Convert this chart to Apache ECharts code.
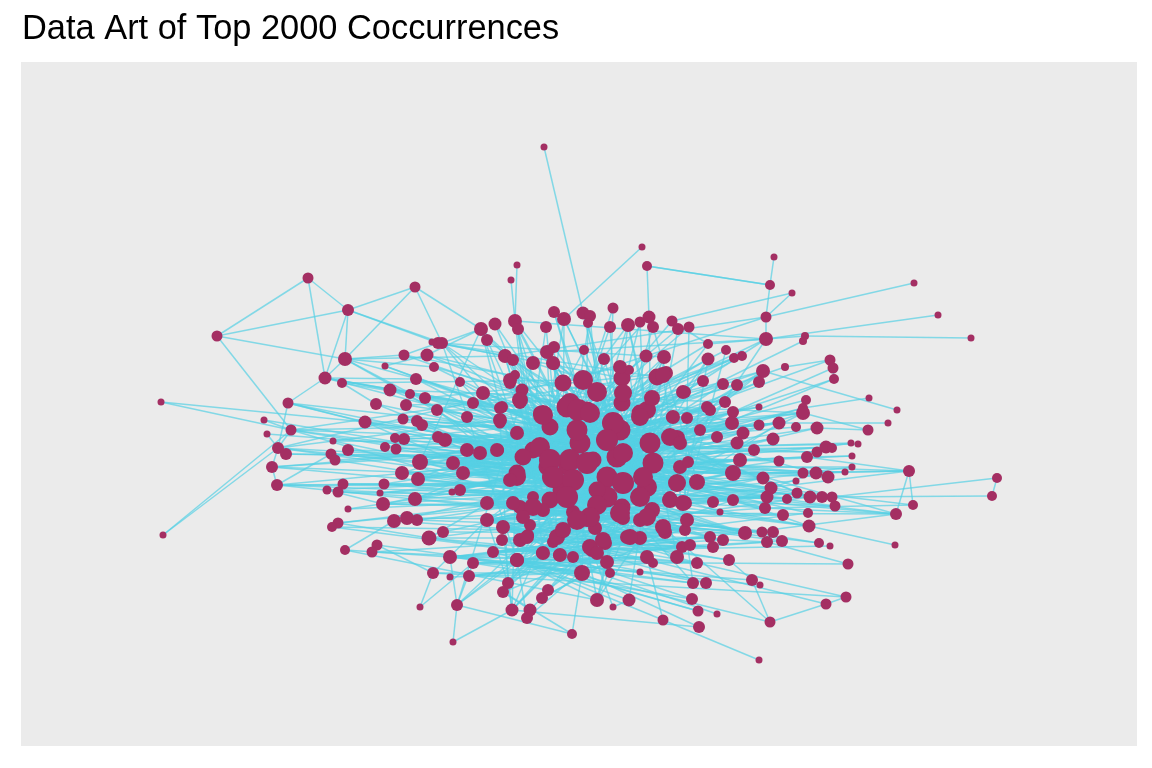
<!DOCTYPE html>
<html><head><meta charset="utf-8">
<script src="https://cdn.jsdelivr.net/npm/echarts@6/dist/echarts.min.js"></script>
<style>html,body{margin:0;padding:0;background:#fff}#c{width:1152px;height:768px}</style>
</head><body><div id="c"></div>
<script>
const titleText = "Data Art of Top 2000 Coccurrences";
// nodes: [x, y, weight]
const nodesLeft = [
[308,278,11],[415,287,11],[348,310,12],[217,336,11],[345,359,14],[325,378,13],[342,383,10],[288,403,11],[161,402,7],[385,366,7],
[404,355,11],[427,355,13],[432,342,7],[438,343,12],[434,367,10],[416,379,12],[390,390,13],[410,394,10],[425,398,12],[376,404,12],
[406,405,12],[264,420,7],[267,434,7],[291,430,11],[365,422,13],[403,419,11],[417,421,12],[422,425,12],[333,441,7],[278,448,12],
[286,454,12],[272,467,12],[277,485,12],[331,454,11],[335,460,11],[348,450,12],[385,447,10],[395,438,10],[404,439,12],[396,449,11],
[420,462,16],[402,473,14],[418,479,14],[384,484,11],[380,493,7],[343,484,11],[338,492,11],[327,490,9],[348,509,7],[383,504,14],
[415,499,14],[394,521,14],[407,518,14],[417,520,12],[338,523,11],[332,527,10],[429,538,15],[377,545,11],[372,552,11],[345,550,10],
[433,573,12],[420,607,7],[163,535,7],[437,410,12],[438,437,12]
];
const nodesTop = [
[544,147,7],[517,265,7],[511,280,7],[642,247,7],[647,266,10],[554,312,12],[564,319,14],[583,313,13],[590,316,12],[588,323,10],
[613,308,11],[481,329,14],[495,324,13],[515,321,14],[518,329,12],[546,327,12],[610,327,12],[628,325,14],[640,322,11],[649,317,13],
[653,327,12],[672,321,11],[678,329,12],[689,327,11],[487,340,12],[442,343,12],[505,356,14],[513,360,12],[547,352,14],[554,347,12],
[554,364,12],[584,350,10],[604,359,12],[646,356,13],[664,357,14],[708,344,10],[708,359,13],[726,350,10],[460,382,10],[515,375,10],
[510,383,12],[522,390,13],[563,383,17],[583,380,20],[597,392,20],[622,378,17],[629,370,10],[657,377,17],[666,373,14],[685,392,12],
[703,381,12],[723,384,12],[652,399,14],[483,393,14],[473,403,12],[502,407,12],[570,403,20],[622,403,17],[707,407,12],[725,402,12]
];
const nodesRight = [
[774,257,7],[770,285,10],[792,293,7],[914,283,7],[938,315,7],[971,338,7],[766,317,11],[766,339,14],[805,336,8],[803,341,8],
[734,358,10],[742,356,10],[785,367,8],[830,360,11],[833,368,11],[834,379,10],[763,371,14],[759,382,12],[737,385,12],[806,400,10],
[869,398,7],[759,407,7],[803,408,10],[897,410,7],[888,423,7],[868,430,11],[851,443,7],[858,444,7],[852,456,7],[852,467,7],
[845,472,7],[909,471,12],[997,478,10],[992,496,10],[913,505,10],[896,514,12],[895,545,7],[848,564,11],[846,597,11],[826,604,11],
[770,622,11],[759,660,7],[752,580,12],[760,585,7],[729,560,12],[819,543,10],[830,546,7],[809,526,13],[808,513,10],[783,515,12],
[765,508,12],[835,506,11],[832,497,11],[822,497,12],[810,497,13],[797,493,11],[787,499,10],[767,497,13],[771,488,13],[763,478,13],
[796,481,7],[803,473,11],[816,473,13],[828,477,13],[779,461,11],[807,457,12],[817,452,11],[826,447,13],[832,448,10],[817,428,13],
[796,427,10],[779,423,13],[759,425,11],[773,439,13],[754,450,12],[803,413,14],[733,412,12],[732,423,14],[743,433,13],[737,443,13],
[740,460,14],[733,473,16],[733,500,12],[745,533,14],[762,532,11],[773,532,12],[767,542,12],[782,541,12]
];
const nodesCenter = [
[500,408,12],[520,403,12],[467,417,12],[500,423,11],[517,432,12],[445,440,14],[467,450,14],[480,453,14],[498,450,12],[453,463,14],
[463,473,14],[460,490,12],[452,492,7],[487,503,14],[487,520,14],[443,532,12],[503,528,12],[502,540,12],[493,552,12],[450,557,14],
[473,563,12],[450,577,7],[469,576,12],[517,560,14],[520,540,14],[528,535,12],[530,525,12],[542,553,12],[559,555,12],[553,542,12],
[563,532,12],[573,512,14],[587,520,14],[595,528,14],[592,550,14],[605,543,14],[607,562,14],[582,573,16],[610,573,10],[627,537,14],
[640,538,14],[623,518,14],[640,520,14],[652,510,16],[665,532,14],[647,557,12],[653,563,10],[640,572,7],[682,547,12],[690,545,12],
[697,563,12],[685,530,12],[685,503,14],[670,497,12],[713,502,12],[720,512,7],[710,537,12],[713,547,12],[723,540,12],[697,482,16],
[680,467,14],[688,462,12],[677,438,16],[672,417,12],[687,418,12],[700,430,12],[710,410,12],[717,437,12],[650,443,21],[647,487,20],
[653,463,21],[640,413,17],[620,430,21],[617,457,21],[607,477,21],[607,497,21],[622,507,17],[597,490,17],[593,460,17],[580,443,21],
[577,430,21],[567,407,21],[587,410,17],[550,427,17],[540,413,14],[533,450,17],[523,457,17],[517,473,17],[547,467,17],[567,467,17],
[563,490,21],[550,500,17],[520,507,14],[533,497,12],[543,510,14],[573,557,12]
];
const nodesLower = [
[508,583,12],[503,592,12],[548,590,12],[542,598,12],[597,600,14],[629,600,13],[613,607,7],[457,605,12],[512,610,13],[530,610,13],
[527,618,12],[572,634,10],[453,642,7],[663,620,11],[693,583,12],[706,583,12],[692,599,12],[698,611,11],[717,614,7],[699,627,12]
];
const nodesCore = [
[578,410,22],[590,413,20],[543,415,20],[613,423,22],[607,440,22],[570,460,22],[587,463,22],[623,453,20],[540,447,20],[550,460,22],
[517,477,18],[553,477,22],[573,480,22],[567,497,22],[597,505,20],[623,483,22],[643,477,20],[640,497,20],[620,513,20],[647,517,18],
[590,517,20],[577,520,20],[533,507,18],[647,410,18],[640,417,18],[623,393,18],[670,437,18],[677,483,18],[670,500,16],[683,503,16],
[663,527,16],[630,537,16],[590,547,16],[603,540,16],[557,537,16],[563,530,16],[527,537,14],[503,527,14],[513,503,14],[523,517,14],
[510,480,14],[497,450,14],[500,420,14],[517,433,14],[510,380,14],[520,400,16],[533,363,14],[553,363,14],[620,367,14],[663,375,16],
[683,392,14],[652,398,16],[673,417,14],[680,443,14],[687,520,14],[543,553,14],[560,555,14],[517,560,14],[597,553,14],[647,557,14],
[677,557,14]
];
// edges: "source:target,target;..."
const edgesLeft = "0:3,2,5;1:2,4,76,90;2:3,4,5,13,90;3:4,23;4:5,10,14,281,91;5:7,15,16,283;6:19,275,108;7:29,24,281;8:23,24;9:11,283,272;10:13,109,285;11:76,281,122;12:90,110;13:91,112,99;14:286,275;15:283,287;16:282,285,124;17:281,206;18:272,113;19:283,288;20:281,117;21:23,287;22:29,283;23:29,282,281,272;24:286,202,283;25:281,283;26:275,272;27:285,256;28:288,281;29:30,31,282,206;30:283,286;31:32,288,281;32:33,282,272,208;33:287,283;34:281,256;35:286,272;36:283,196;37:281,279;38:285,272;39:282,275;40:281,283,272,208;41:286,282;42:288,283,265;43:289,281;44:287,283;45:282,272;46:288,256;47:49,287,265;48:288,283;49:256,282;50:281,272;51:289,253;52:255,283;53:282,264;54:56,288,282;55:249,257;56:256,263,253;57:58,250,60;58:249,252;59:51,313,232;60:227,250,163;61:60,233;62:23,29;63:281,279;64:283,206";
const edgesTop = "65:72;66:78;67:78;68:71;69:84,126;70:71,287,288;71:282,303;72:286,256;73:288,303;74:286,250;75:287,304;76:89,300,282,40;77:303,289;78:301,282;79:298,288;80:303,305;81:304,289;82:288,300;83:290,282;84:299,256;85:287,272;86:301,100;87:298,282;88:300,265;89:283,301;90:76,289,303;91:281,298;92:287,304;93:286,256;94:303,282;95:288,250;96:300,282;97:303,256;98:298,288;99:301,282;100:299,287,132;101:300,288;102:298,265;103:282,303;104:287,256;105:282,283;106:288,272;107:300,289;108:303,282,299;109:298,288,256;110:300,287;111:302,282;112:299,303;113:300,288;114:226,287;115:222,301;116:219,303;117:227,288;118:281,272;119:286,256;120:283,265;121:288,282,300;122:301,256;123:298,288;124:300,289";
const edgesRight = "125:126;126:131,69;127:86,131;128:131;129:132;130:133;131:132,91,107;132:133,78,93,298;133:134;134:301;135:298,219;136:300,222;137:299,138;138:139,300;139:227,140;140:302,305;141:298,303,219;142:300,226;143:222,288;144:147,301;145:147;146:299,219;147:302,226;148:141;149:196;150:194,200;151:220,192;152:298;153:223,190;154:301,186;155:222,187;156:159,160,187,206,190;157:158,177;158:178;159:175,220;160:208,175,222;161:172;162:211,263;163:164,263;164:165,227;165:167,236;166:322;167:232,169;168:236;169:229,227;170:226,304;171:231;172:222,303;173:298,232;174:227,305;175:220,288;176:224,301;177:223,300;178:226,222;179:219,304;180:299,227;181:218,303;182:300,224;183:222,298;184:219,288;185:226;186:298,223;187:300,218;188:222,219;189:299,226;190:301,223;191:218,298;192:300,222;193:219;194:226,301;195:298;196:298,219;197:299,222;198:300,303;199:223,301;200:218,303,219;201:298,224;202:299,226;203:300,222;204:301,218;205:303,219;206:298,222,227;207:299,224;208:300,232;209:305,226;210:227,307;211:229,232;212:236,305";
const edgesCenter = "213:281,272;214:282,275;215:283,265;216:256,272;217:281,206;218:285,283;219:286,282;220:272,288;221:281,256;222:283,275;223:282,272;224:281,265;225:288;226:283,256;227:281,272;228:282,208;229:288,264;230:256,253;231:257,269;232:253,263;233:249,263;234:250;235:262,258;236:264,256;237:282,261;238:272,253;239:283,266;240:257,263;241:261,253;242:256,270;243:282,264;244:281,269;245:272,255;246:283,262;247:264,257;248:269,299;249:227,230;250:232,236;251:233,229;252:231,226;253:230,227;254:226,305;255:300,229;256:299,227;257:237,305;258:236,233;259:235,229;260:236;261:304,231;262:305,227;263:229,226;264:298,307;265:300,226;266:299,305;267:303,227;268:298;269:300,236;270:237,229;271:304,231;272:299,226,300;273:298,223;274:300,222;275:299,226;276:298,220;277:300,219;278:301,223;279:299,218;280:298,222;281:298,300,220,226;282:299,222,227;283:300,218,305;284:298,219;285:299,222;286:300,224;287:298,220;288:299,227;289:300,224;290:298,222;291:299,226;292:300,222;293:298,226;294:299,300;295:301,223;296:283,282;297:281,288;298:283,256;299:282,272;300:281,288;301:283,265;302:282,256;303:281,272;304:283,264;305:288,256;306:281,282;307:283,253;308:256,229";
const edgesLower = "309:227,286,256;310:288,253;311:283,255;312:249,257;313:236,253;314:236,282;315:247,314;316:232,233,288;317:309,229,283;318:310,282;319:236,256;320:310,316,250;321:317,316;322:258,236;323:236,232;324:229,240;325:241,233;326:236,231;327:230;328:250,317";
const edgesCore = "329:29,206;330:40,187;331:160,5;332:23,179;333:31,200;334:156,42;335:7,182;336:32,196;337:175,50;338:202,24;339:205,63;340:208,4;341:64,184;342:172,41;343:49,141;344:76,317;345:90,309;346:29,313;347:91,160;348:40,132;349:99,23;350:184,78;351:206,71;352:118,56;353:119,313;354:309,42;355:5,316;356:31,93;357:32,82;358:7,101;359:4,71;360:24,78;361:99,187;362:196,91;363:200,93;364:179,82;365:202,141;366:175,206;367:187,132;368:156,182;369:160,205;370:208,196;371:172,309;372:184,317;373:323,179;374:165,200;375:316,202;376:313,206;377:317,29;378:23,323;379:40,316;380:41,313;381:42,309;382:49,317;383:50,119;384:56,78;385:76,91;386:90,99;387:101,118;388:63,93;389:64,82";

const nodes = [].concat(nodesLeft, nodesTop, nodesRight, nodesCenter, nodesLower, nodesCore);
const links = [];
[edgesLeft, edgesTop, edgesRight, edgesCenter, edgesLower, edgesCore].join(';').split(';').forEach(function (s) {
  const p = s.split(':');
  p[1].split(',').forEach(function (t) { links.push({ source: +p[0], target: +t }); });
});

const chart = echarts.init(document.getElementById('c'), null, { renderer: 'canvas' });
chart.setOption({
  animation: false,
  backgroundColor: '#ffffff',
  title: {
    text: titleText, left: 22, top: 13, padding: 0,
    textStyle: { fontSize: 34.4, fontWeight: 'normal', color: '#000000', fontFamily: 'Liberation Sans, Arial, sans-serif' }
  },
  grid: { left: 21, top: 62, width: 1116, height: 684, show: true, backgroundColor: '#EBEBEB', borderWidth: 0 },
  xAxis: { type: 'value', min: 21, max: 1137, show: false },
  yAxis: { type: 'value', min: 62, max: 746, inverse: true, show: false },
  series: [{
    type: 'graph',
    coordinateSystem: 'cartesian2d',
    silent: true,
    symbol: 'circle',
    data: nodes.map(function (n) { return { value: [n[0], n[1]], symbolSize: n[2] }; }),
    links: links,
    itemStyle: { color: '#A42F63', opacity: 1 },
    lineStyle: { color: '#55D0E4', width: 1.5, opacity: 0.7, curveness: 0 },
    label: { show: false }
  }]
});
</script>
</body></html>
